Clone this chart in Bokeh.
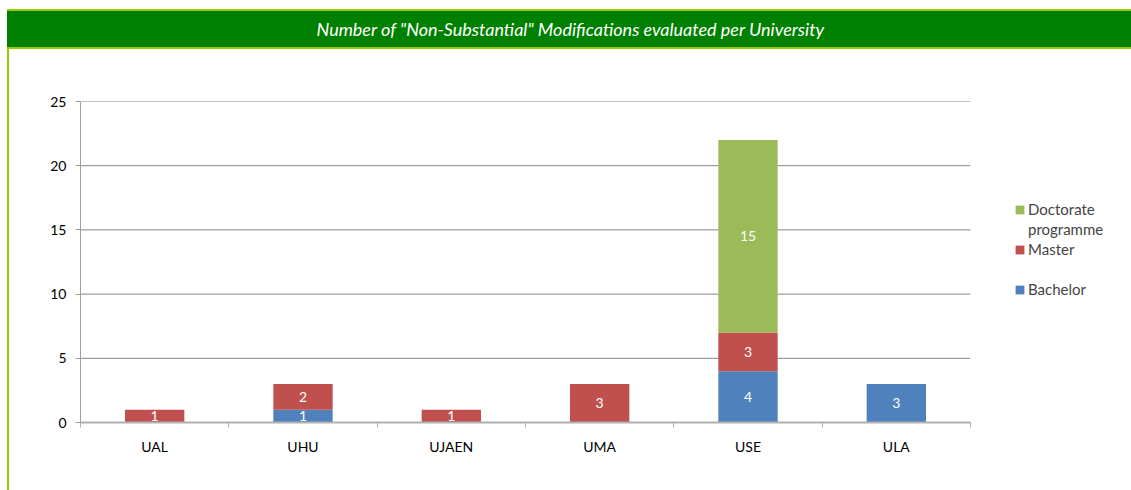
from bokeh.plotting import figure
from bokeh.models import (ColumnDataSource, Legend, LegendItem, FixedTicker,
                          Range1d, Title)
from bokeh.core.properties import value
from bokeh.embed import file_html
from bokeh.resources import INLINE

# ---- data ----
universities = ["UAL", "UHU", "UJAEN", "UMA", "USE", "ULA"]
bachelor = [0, 1, 0, 0, 4, 3]
master = [1, 2, 1, 3, 3, 0]
doctorate = [0, 0, 0, 0, 15, 0]
series_colors = ["#4F81BD", "#C0504D", "#9BBB59"]
y_ticks = [0, 5, 10, 15, 20, 25]
title_text = 'Number of "Non-Substantial" Modifications evaluated per University'

FONT = "Lato"
W, H = 1131, 490
PLOT_LEFT, PLOT_RIGHT = 80, 970          # pixel extent of the category area
n = len(universities)
# frame reaches the right canvas edge so the legend can sit beside the bars
x_end = n * (W - PLOT_LEFT) / (PLOT_RIGHT - PLOT_LEFT)

centers = [i + 0.5 for i in range(n)]
bounds = [float(i) for i in range(n + 1)]

src = ColumnDataSource(dict(x=centers, Bachelor=bachelor, Master=master,
                            Doctorate=doctorate))

# decorative header band and left rule drawn as CSS background of the figure
css = {
    "background-image": ("linear-gradient(#99CC00, #99CC00), "
                         "linear-gradient(to bottom, #99CC00 0px, #99CC00 2px, "
                         "#008000 2px, #008000 38px, #99CC00 38px, #99CC00 40px)"),
    "background-size": "2px 441px, calc(100% - 7px) 40px",
    "background-position": "7px 49px, 7px 9px",
    "background-repeat": "no-repeat",
}

p = figure(width=W, height=H, output_backend="svg", toolbar_location=None,
           x_range=Range1d(0, x_end), y_range=Range1d(0, 25),
           min_border_left=PLOT_LEFT, min_border_right=0, min_border_top=101,
           min_border_bottom=68, outline_line_color=None,
           border_fill_color=None, background_fill_color=None,
           styles=css)

# spacer title (nearest to the frame) then real title (outermost)
p.add_layout(Title(text=" ", text_font_size="10px", standoff=38,
                   text_color="white"), "above")
p.add_layout(Title(text=title_text, text_color="white", text_font=FONT,
                   text_font_style="italic", text_font_size="18px",
                   align="left", offset=236, standoff=19,
                   vertical_align="middle"), "above")

# horizontal grid lines limited to the category area
p.segment(x0=[0] * len(y_ticks), x1=[n] * len(y_ticks), y0=y_ticks, y1=y_ticks,
          line_color="#888888", line_width=1)

renderers = p.vbar_stack(["Bachelor", "Master", "Doctorate"], x="x", width=0.4,
                         source=src, color=series_colors, line_color=None)

# labels in segments
lx, ly, lt = [], [], []
for i, c in enumerate(centers):
    base = 0
    for vals in (bachelor, master, doctorate):
        v = vals[i]
        if v:
            lx.append(c)
            ly.append(base + v / 2)
            lt.append(str(v))
        base += v
p.text(x=lx, y=ly, text=lt, text_color="white", text_font=value(FONT),
       text_font_size="14px", text_align="center", text_baseline="middle")

# axes
p.xaxis.bounds = (0, n)
p.xaxis.ticker = FixedTicker(ticks=centers, minor_ticks=bounds)
p.xaxis.major_label_overrides = {c: u for c, u in zip(centers, universities)}
p.xaxis.major_tick_line_color = None
p.xaxis.minor_tick_in = 0
p.xaxis.minor_tick_out = 5
p.xaxis.minor_tick_line_color = "#B0B0B0"
p.xaxis.axis_line_color = "#B0B0B0"
p.xaxis.axis_line_width = 2
p.xaxis.major_label_standoff = 9

p.yaxis.ticker = FixedTicker(ticks=y_ticks)
p.yaxis.minor_tick_line_color = None
p.yaxis.major_tick_in = 0
p.yaxis.major_tick_out = 5
p.yaxis.major_tick_line_color = "#A0A0A0"
p.yaxis.axis_line_color = "#A0A0A0"
p.yaxis.major_label_standoff = 9

for ax in (p.xaxis, p.yaxis):
    ax.major_label_text_font = FONT
    ax.major_label_text_font_size = "14px"
    ax.major_label_text_color = "#000000"

p.grid.visible = False

# invisible helper renderer for the wrapped/blank legend rows
blank = p.scatter(x=[], y=[], alpha=0)

legend = Legend(items=[
    LegendItem(label="Doctorate", renderers=[renderers[2]]),
    LegendItem(label="programme", renderers=[blank]),
    LegendItem(label="Master", renderers=[renderers[1]]),
    LegendItem(label=" ", renderers=[blank]),
    LegendItem(label="Bachelor", renderers=[renderers[0]]),
], location=(934, 123), label_text_font=FONT, label_text_font_size="15px",
    glyph_width=11, glyph_height=11, border_line_color=None,
    background_fill_alpha=0, padding=0, margin=0, spacing=0,
    label_height=20, label_standoff=3)
p.add_layout(legend, "center")

open("out.html", "w").write(file_html(p, INLINE))
